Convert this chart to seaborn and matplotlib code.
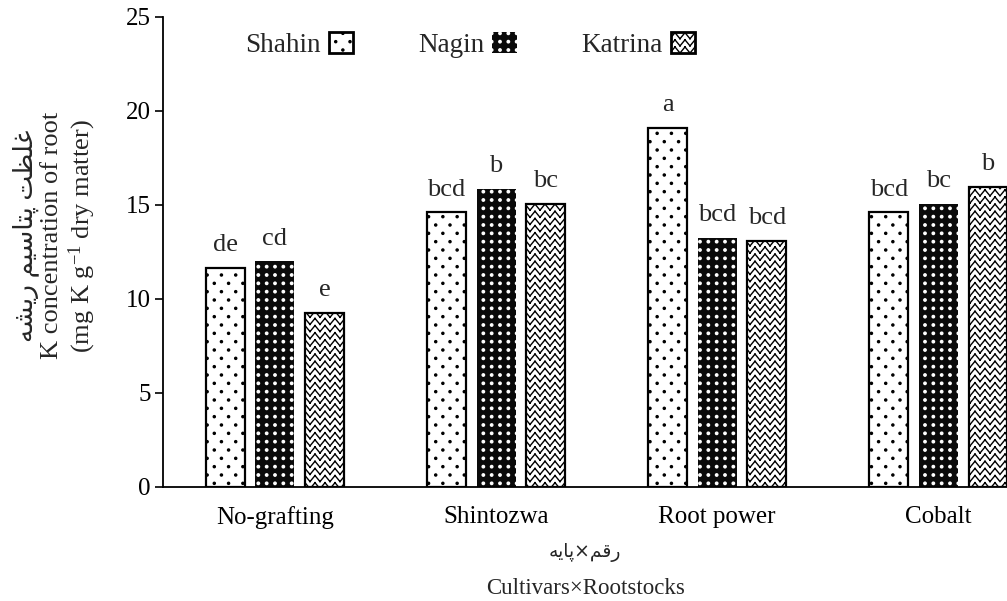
import warnings
warnings.filterwarnings("ignore")
import numpy as np
import pandas as pd
import matplotlib
matplotlib.use("Agg")
import matplotlib.pyplot as plt
from matplotlib.patches import Patch
from matplotlib.path import Path
import seaborn as sns

# ---------------- data ----------------
rootstocks = ["No-grafting", "Shintozwa", "Root power", "Cobalt"]
cultivars = ["Shahin", "Nagin", "Katrina"]
shahin = [11.65, 14.6, 19.1, 14.6]
nagin = [12.0, 15.85, 13.25, 15.05]
katrina = [9.25, 15.05, 13.1, 15.95]
letters_shahin = ["de", "bcd", "a", "bcd"]
letters_nagin = ["cd", "b", "bcd", "bc"]
letters_katrina = ["e", "bc", "bcd", "b"]
y_ticks = [0, 5, 10, 15, 20, 25]
ylabel_fa = "غلظت پتاسیم ریشه"
ylabel_en1 = "K concentration of root"
ylabel_en2 = "(mg K g$^{-1}$ dry matter)"
xlabel_fa = "رقم×پایه"
xlabel_en = "Cultivars×Rootstocks"

# ------------- simple Persian shaping (presentation forms) -------------
FORMS = {
    "\u063A": ("\uFECD", "\uFECE", "\uFECF", "\uFED0"),
    "\u0644": ("\uFEDD", "\uFEDE", "\uFEDF", "\uFEE0"),
    "\u0638": ("\uFEC5", "\uFEC6", "\uFEC7", "\uFEC8"),
    "\u062A": ("\uFE95", "\uFE96", "\uFE97", "\uFE98"),
    "\u067E": ("\uFB56", "\uFB57", "\uFB58", "\uFB59"),
    "\u0627": ("\uFE8D", "\uFE8E", "\uFE8D", "\uFE8E"),
    "\u0633": ("\uFEB1", "\uFEB2", "\uFEB3", "\uFEB4"),
    "\u06CC": ("\uFBFC", "\uFBFD", "\uFBFE", "\uFBFF"),
    "\u0645": ("\uFEE1", "\uFEE2", "\uFEE3", "\uFEE4"),
    "\u0631": ("\uFEAD", "\uFEAE", "\uFEAD", "\uFEAE"),
    "\u0634": ("\uFEB5", "\uFEB6", "\uFEB7", "\uFEB8"),
    "\u0647": ("\uFEE9", "\uFEEA", "\uFEEB", "\uFEEC"),
    "\u0642": ("\uFED5", "\uFED6", "\uFED7", "\uFED8"),
}
RIGHT_ONLY = {"\u0627", "\u0631"}


def shape_rtl(text):
    out = []
    for i, c in enumerate(text):
        if c not in FORMS:
            out.append(c)
            continue
        prev = text[i - 1] if i > 0 else None
        nxt = text[i + 1] if i + 1 < len(text) else None
        jp = prev in FORMS and prev not in RIGHT_ONLY
        jn = nxt in FORMS and c not in RIGHT_ONLY
        iso, fin, ini, med = FORMS[c]
        out.append(med if (jp and jn) else fin if jp else ini if jn else iso)
    return "".join(reversed(out))


# ------------- custom hatches: 'z' zigzag, 'p' sparse dots, 'q' grid dots -------------
try:
    from matplotlib import hatch as mhatch

    class ZigZagHatch(mhatch.HatchPatternBase):
        ROWS, TEETH, AMP = 14, 10, 0.85

        def __init__(self, hatch, density):
            self.on = "z" in hatch
            self.num_vertices = (self.ROWS + 1) * self.TEETH * 2 * 2 if self.on else 0

        def set_vertices_and_codes(self, vertices, codes):
            amp = self.AMP / self.ROWS
            k = 0
            nseg = 2 * self.TEETH
            for r in range(self.ROWS + 1):
                y0 = r / self.ROWS - amp / 2
                for j in range(nseg):
                    xa, xb = j / nseg, (j + 1) / nseg
                    ya = y0 + (amp if j % 2 else 0.0)
                    yb = y0 + (0.0 if j % 2 else amp)
                    vertices[k] = (xa, ya)
                    codes[k] = Path.MOVETO
                    vertices[k + 1] = (xb, yb)
                    codes[k + 1] = Path.LINETO
                    k += 2

    class DotHatch(mhatch.HatchPatternBase):
        def __init__(self, hatch, density):
            circ = Path.unit_circle()
            self.cv, self.cc = circ.vertices, circ.codes
            self.pts = []
            self.rad = 0.01
            if "p" in hatch:
                rows, cols, self.rad = 12, 7, 0.0105
                for r in range(rows + 1):
                    if r % 2 == 0:
                        xs = [c / cols for c in range(cols + 1)]
                    else:
                        xs = [(c + 0.5) / cols for c in range(cols)]
                    self.pts += [(x, r / rows) for x in xs]
            elif "q" in hatch:
                rows, cols, self.rad = 12, 12, 0.012
                for r in range(rows + 1):
                    self.pts += [(c / cols, r / rows) for c in range(cols + 1)]
            self.num_vertices = len(self.pts) * len(self.cv)

        def set_vertices_and_codes(self, vertices, codes):
            n = len(self.cv)
            for i, (x, y) in enumerate(self.pts):
                vertices[i * n:(i + 1) * n] = self.cv * self.rad + (x, y)
                codes[i * n:(i + 1) * n] = self.cc

    mhatch._hatch_types.append(ZigZagHatch)
    mhatch._hatch_types.append(DotHatch)
    HATCHES = {"Shahin": "p", "Nagin": "q", "Katrina": "z"}
except Exception:
    HATCHES = {"Shahin": ".", "Nagin": "..", "Katrina": "xxxx"}

# ---------------- style ----------------
sns.set_theme(style="white")
plt.rcParams["font.family"] = ["Liberation Serif", "DejaVu Sans"]
plt.rcParams["mathtext.default"] = "regular"
plt.rcParams["mathtext.fontset"] = "custom"
plt.rcParams["mathtext.rm"] = "Liberation Serif"
plt.rcParams["hatch.linewidth"] = 1.0

df = pd.DataFrame({
    "rootstock": rootstocks * 3,
    "cultivar": [c for c in cultivars for _ in rootstocks],
    "K": shahin + nagin + katrina,
})

fig = plt.figure(figsize=(10.07, 6.01), dpi=100)
ax = fig.add_axes([0.162, 0.190, 0.838, 0.782])

palette = {"Shahin": "white", "Nagin": "#0a0a0a", "Katrina": "white"}
sns.barplot(data=df, x="rootstock", y="K", hue="cultivar", order=rootstocks,
            hue_order=cultivars, palette=palette, saturation=1, width=0.672,
            gap=0.214, edgecolor="black", linewidth=1.6, errorbar=None,
            legend=False, ax=ax)

letters = {"Shahin": letters_shahin, "Nagin": letters_nagin, "Katrina": letters_katrina}
for cont, cv in zip(ax.containers, cultivars):
    for bar, lab in zip(cont, letters[cv]):
        bar.set_hatch(HATCHES[cv])
        if cv == "Nagin":
            bar.set_edgecolor("white")
            bar.set_linewidth(0)
        ax.annotate(lab, (bar.get_x() + bar.get_width() / 2, bar.get_height()),
                    xytext=(0, 12), textcoords="offset points", ha="center",
                    va="baseline", fontsize=19)

ax.set_xlim(-0.505, 3.31)
ax.set_ylim(0, 25)
ax.set_yticks(y_ticks)
ax.tick_params(axis="y", length=6, width=1.2, direction="out", labelsize=18,
               pad=3, left=True, colors="black")
ax.tick_params(axis="x", length=0, labelsize=18, pad=14, colors="black")
for s in ["top", "right"]:
    ax.spines[s].set_visible(False)
for s in ["left", "bottom"]:
    ax.spines[s].set_color("black")
    ax.spines[s].set_linewidth(1.3)

ax.set_ylabel(shape_rtl(ylabel_fa) + "\n" + ylabel_en1 + "\n" + ylabel_en2,
              fontsize=19, linespacing=1.15)
ax.yaxis.set_label_coords(-0.077, 0.534)

ax.set_xlabel(xlabel_en, fontsize=16.5, labelpad=35)
ax.text(0.5, -0.140, shape_rtl(xlabel_fa), transform=ax.transAxes,
        ha="center", va="center", fontsize=13.5, family="DejaVu Sans")

handles = []
for cv in cultivars:
    if cv == "Nagin":
        handles.append(Patch(facecolor=palette[cv], edgecolor="white",
                             hatch=HATCHES[cv], linewidth=0, label=cv))
    else:
        handles.append(Patch(facecolor=palette[cv], edgecolor="black",
                             hatch=HATCHES[cv], linewidth=2, label=cv))
ax.legend(handles=handles, loc="center", bbox_to_anchor=(0.364, 0.94),
          ncol=3, frameon=False, fontsize=19.5, markerfirst=False,
          handlelength=0.9, handleheight=0.8, handletextpad=0.3,
          columnspacing=2.4, borderpad=0, borderaxespad=0)

fig.savefig("out.png", dpi=100)
